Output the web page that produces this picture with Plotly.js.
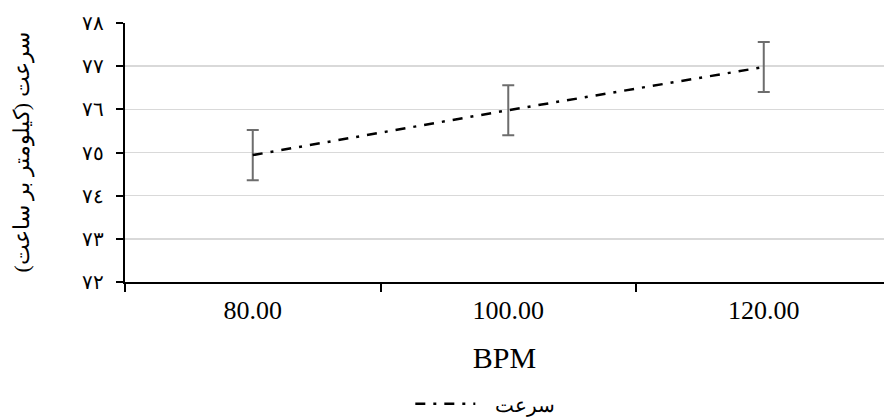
<!DOCTYPE html>
<html>
<head>
<meta charset="utf-8">
<script src="https://cdn.plot.ly/plotly-3.0.1.min.js"></script>
<style>
  html, body { margin: 0; padding: 0; background: #fff; }
  #chart { width: 884px; height: 418px; }
</style>
</head>
<body>
<div id="chart"></div>
<script>
// Heart rate (BPM) categories and the measured speed at each one
const bpmLabels = ['80.00', '100.00', '120.00'];
const speedValues = [74.94, 75.98, 76.98];
const speedErrors = [0.58, 0.58, 0.58];

// Y-axis ticks shown with Arabic-Indic digits
const yTickValues = [72, 73, 74, 75, 76, 77, 78];
const yTickLabels = ['٧٢', '٧٣', '٧٤', '٧٥', '٧٦', '٧٧', '٧٨'];

const seriesName = '\u00A0\u00A0\u00A0سرعت';
const yTitle = '\u200Fسرعت (کیلومتر بر ساعت)\u200F';
const xTitle = 'BPM';

const serif = "'Times New Roman', 'Liberation Serif', 'DejaVu Serif', serif";

const trace = {
  type: 'scatter',
  mode: 'lines',
  x: bpmLabels,
  y: speedValues,
  name: seriesName,
  line: { color: '#000000', width: 2.5, dash: '10px,8px,3px,8px' },
  error_y: {
    type: 'data',
    array: speedErrors,
    visible: true,
    color: '#6d6d6d',
    thickness: 2,
    width: 6
  },
  hoverinfo: 'x+y'
};

const layout = {
  width: 884,
  height: 418,
  margin: { l: 125, r: 0, t: 22.7, b: 135.7, autoexpand: false },
  paper_bgcolor: '#ffffff',
  plot_bgcolor: '#ffffff',
  font: { family: serif, color: '#000000' },
  showlegend: true,
  legend: {
    orientation: 'h',
    xref: 'container',
    yref: 'paper',
    x: 0.549,
    xanchor: 'center',
    y: -0.47,
    yanchor: 'middle',
    font: { size: 20, family: serif, color: '#000000' },
    itemwidth: 60,
    bgcolor: 'rgba(0,0,0,0)'
  },
  xaxis: {
    type: 'category',
    categoryorder: 'array',
    categoryarray: bpmLabels,
    range: [-0.5, 2.4706],
    tickson: 'boundaries',
    ticks: 'outside',
    ticklen: 8,
    tickwidth: 2,
    tickcolor: '#000000',
    showline: true,
    linecolor: '#000000',
    linewidth: 2,
    showgrid: false,
    zeroline: false,
    automargin: false,
    ticklabelstandoff: 4,
    tickfont: { size: 26, family: serif, color: '#000000' },
    title: { text: xTitle, font: { size: 30, family: serif, color: '#000000' }, standoff: 23 }
  },
  yaxis: {
    range: [72, 78],
    tickvals: yTickValues,
    ticktext: yTickLabels,
    ticks: 'outside',
    ticklen: 7,
    tickwidth: 2,
    tickcolor: '#000000',
    showline: true,
    linecolor: '#000000',
    linewidth: 2,
    showgrid: true,
    gridcolor: '#d9d9d9',
    gridwidth: 1.5,
    zeroline: false,
    automargin: false,
    ticklabelstandoff: 8,
    tickfont: { size: 20, family: serif, color: '#000000' },
    title: { text: yTitle, font: { size: 22, family: serif, color: '#000000' }, standoff: 46 }
  }
};

Plotly.newPlot('chart', [trace], layout, { displayModeBar: false, staticPlot: true });
</script>
</body>
</html>
